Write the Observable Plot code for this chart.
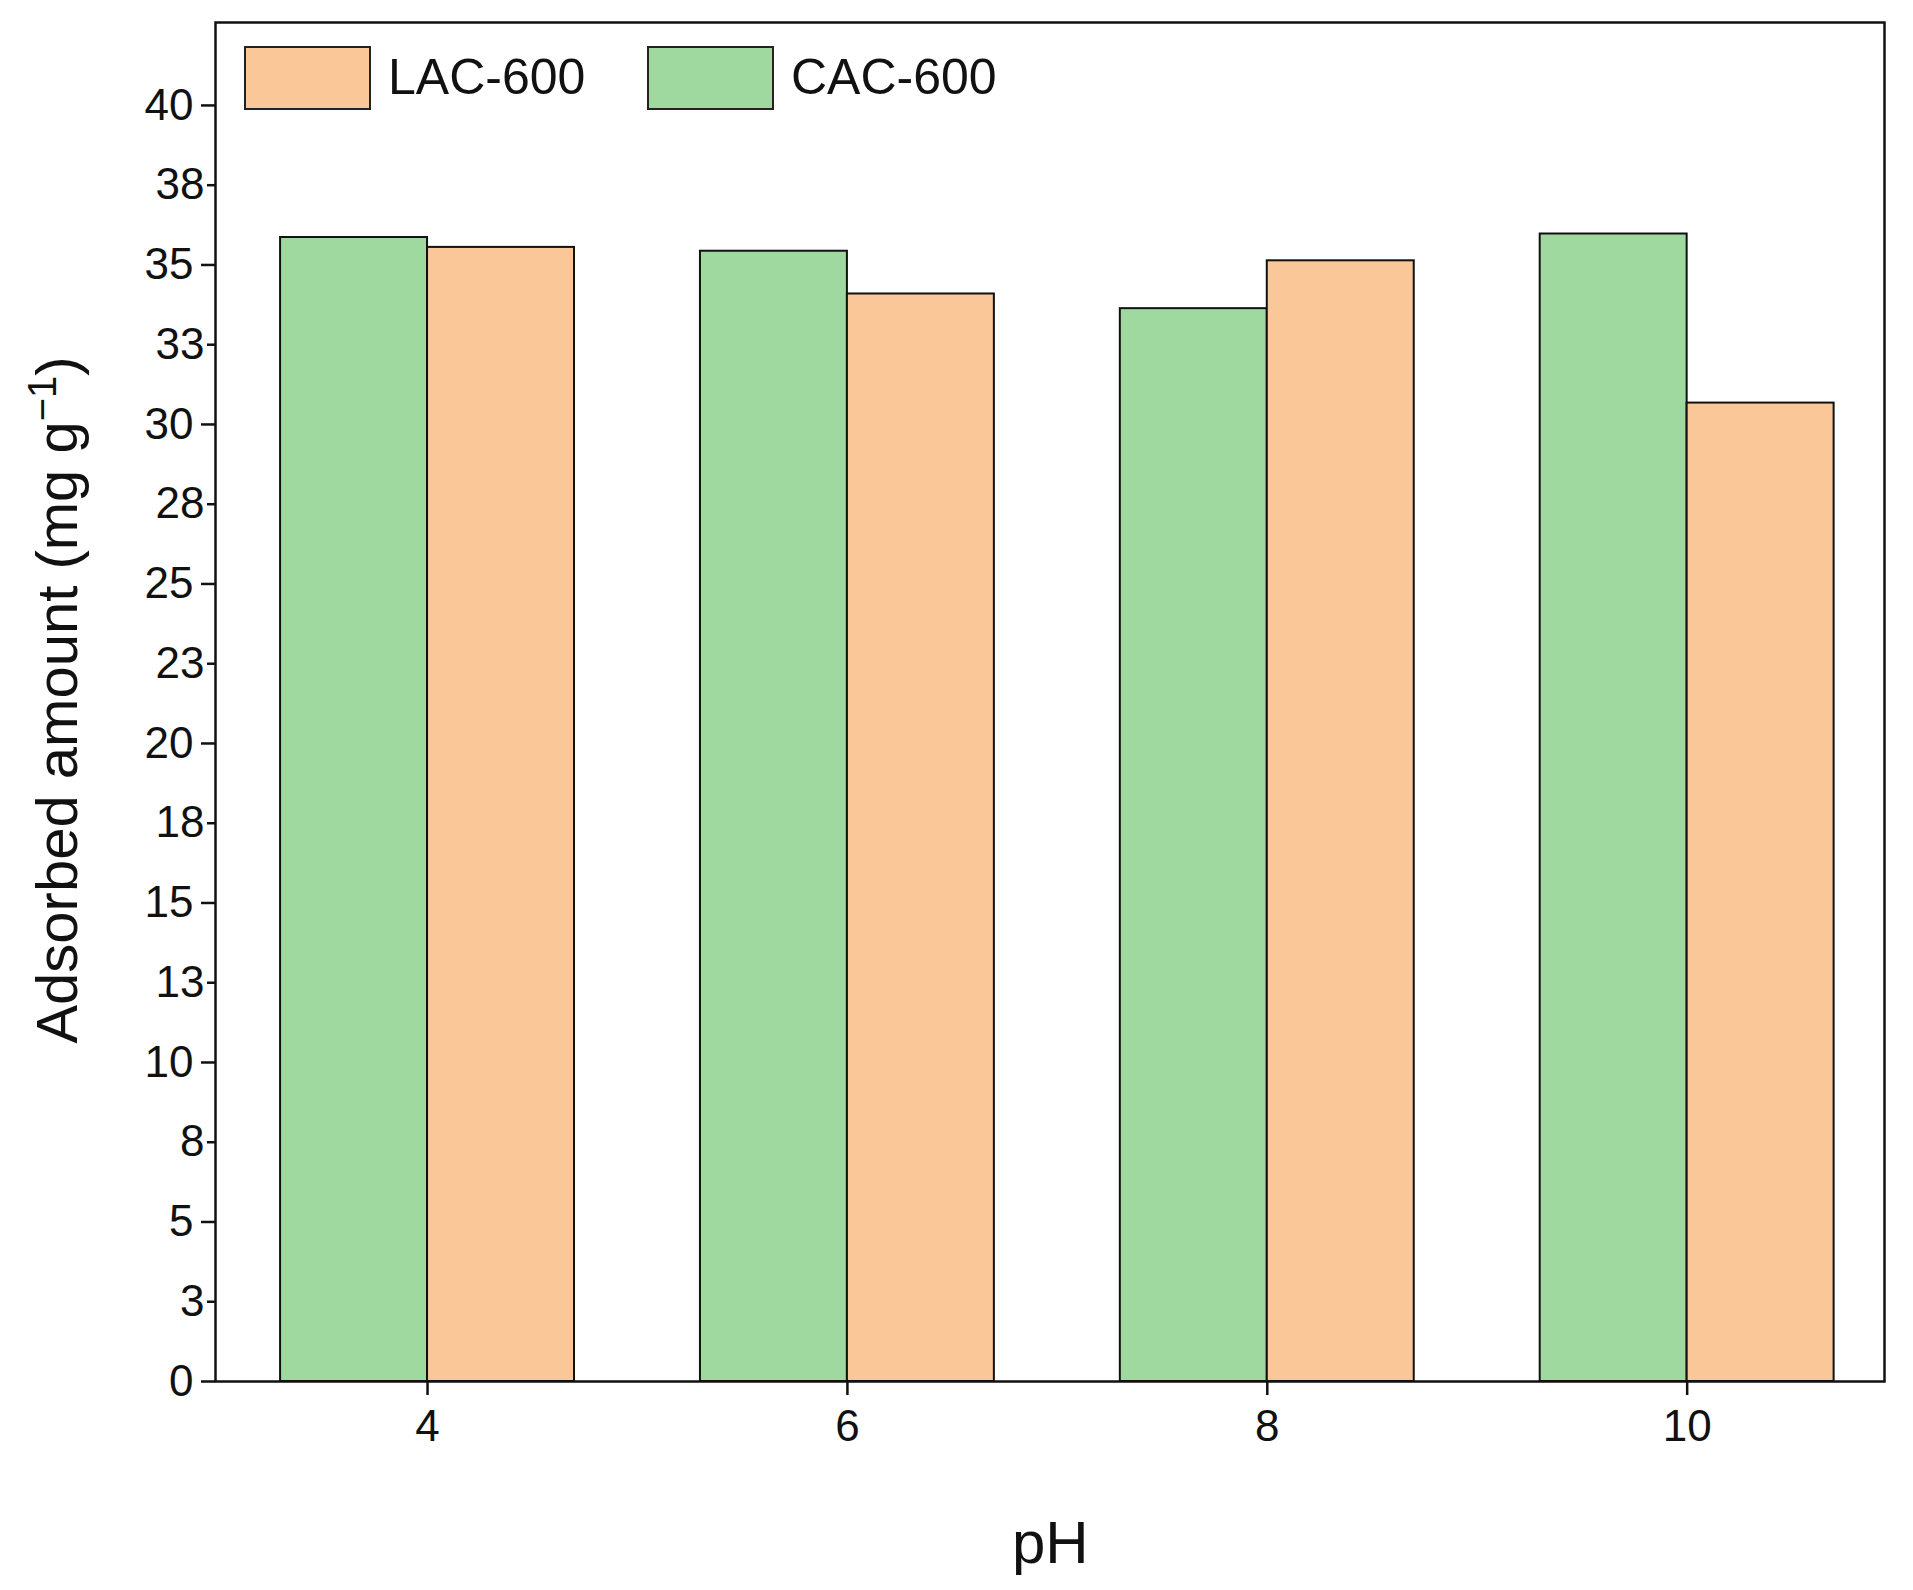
<!DOCTYPE html>
<html><head><meta charset="utf-8">
<script src="https://cdn.jsdelivr.net/npm/d3@7"></script>
<script src="https://cdn.jsdelivr.net/npm/@observablehq/plot@0.6"></script>
<style>
body{margin:0;background:#fff;font-family:"Liberation Sans",Arial,sans-serif}
#wrap{position:relative;width:1913px;height:1590px}
.lg{position:absolute;font-size:50px;color:#111}
.box{position:absolute;border:2px solid #222;width:123px;height:60px}
</style></head><body>
<div id="wrap"></div>
<script>
const pH = [4, 6, 8, 10];
const cac = [35.86, 35.43, 33.63, 35.97];
const lac = [35.55, 34.09, 35.13, 30.67];
const green = "#a0d99f", orange = "#fac898";
const data = [];
pH.forEach((p,i)=>{
  data.push({x1:p-0.7,x2:p,v:cac[i],c:green});
  data.push({x1:p,x2:p+0.7,v:lac[i],c:orange});
});
const major = d3.range(0,41,5), minor = d3.range(2.5,42,5);
const chart = Plot.plot({
  width:1913,height:1590,marginLeft:215,marginRight:29,marginTop:22,marginBottom:209,
  style:{fontFamily:"Liberation Sans, Arial, sans-serif",fontSize:"44px",color:"#111",background:"#fff"},
  x:{domain:[2.99,10.94]},
  y:{domain:[0,42.6]},
  marks:[
    Plot.rectY(data,{x1:"x1",x2:"x2",y1:0,y2:"v",fill:"c",stroke:"#111",strokeWidth:2}),
    Plot.axisY({ticks:major,tickSize:14,tickPadding:8,tickFormat:d=>d,label:null,strokeWidth:2.5}),
    Plot.axisY({ticks:minor,tickSize:8,tickFormat:null,label:null,strokeWidth:2.5}),
    Plot.axisX({ticks:pH,tickSize:14,tickPadding:14,tickFormat:d=>d,label:null,strokeWidth:2.5}),
    Plot.frame({stroke:"#111",strokeWidth:2.5})
  ]
});
const w=document.getElementById("wrap");
w.appendChild(chart);
chart.style.position="absolute";chart.style.left="0";chart.style.top="0";
const add=(html,css,cls)=>{const d=document.createElement("div");d.className=cls||"lg";d.innerHTML=html;Object.assign(d.style,css);w.appendChild(d);};
add("",{left:"244px",top:"46px",background:orange},"box");
add("LAC-600",{left:"388px",top:"48px"});
add("",{left:"647px",top:"46px",background:green},"box");
add("CAC-600",{left:"791px",top:"48px"});
add("pH",{left:"1012px",top:"1508px",fontSize:"60px"});
add("Adsorbed amount (mg g<sup style='font-size:40px'>−1</sup>)",{left:"55px",top:"700px",fontSize:"58px",whiteSpace:"nowrap",transform:"translate(-50%,-50%) rotate(-90deg)"});
</script></body></html>
